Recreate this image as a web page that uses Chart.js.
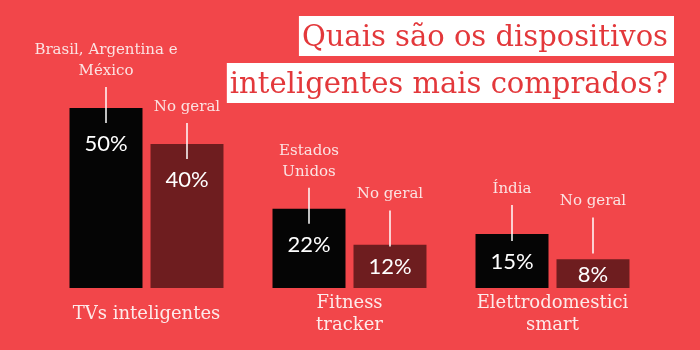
<!DOCTYPE html>
<html lang="pt">
<head>
<meta charset="utf-8">
<title>Quais são os dispositivos inteligentes mais comprados?</title>
<script src="https://cdn.jsdelivr.net/npm/chart.js@4"></script>
<style>
  html, body { margin: 0; padding: 0; background: #f2464a; }
  #chart { display: block; }
</style>
</head>
<body>
<canvas id="chart" width="700" height="350"></canvas>
<script>
// dados
const categories = [['TVs inteligentes'], ['Fitness', 'tracker'], ['Elettrodomestici', 'smart']];
const regionValues = [50, 22, 15];
const overallValues = [40, 12, 8];
const regionNotes = [['Brasil, Argentina e', 'México'], ['Estados', 'Unidos'], ['Índia']];
const overallNotes = [['No geral'], ['No geral'], ['No geral']];
const titleLines = ['Quais são os dispositivos', 'inteligentes mais comprados?'];

const BG = '#f2464a';
const SERIF = '"DejaVu Serif", "Liberation Serif", serif';
const SANS = 'Lato, "Open Sans", sans-serif';

const background = {
    id: 'background',
    beforeDraw(chart) {
        const ctx = chart.ctx;
        ctx.save();
        ctx.fillStyle = BG;
        ctx.fillRect(0, 0, chart.width, chart.height);
        ctx.restore();
    }
};

const annotations = {
    id: 'annotations',
    afterDatasetsDraw(chart) {
        const ctx = chart.ctx;
        const notes = [regionNotes, overallNotes];
        ctx.save();
        ctx.textAlign = 'center';
        ctx.textBaseline = 'middle';
        chart.data.datasets.forEach((ds, di) => {
            const meta = chart.getDatasetMeta(di);
            meta.data.forEach((bar, i) => {
                const labelY = Math.min(bar.y + 35, (bar.y + bar.base) / 2);
                const lineEnd = labelY - 20;
                const lineStart = lineEnd - 36;

                ctx.fillStyle = '#ffffff';
                ctx.font = '400 22px ' + SANS;
                ctx.fillText(ds.data[i] + '%', bar.x, labelY + 1);

                ctx.strokeStyle = '#ffffff';
                ctx.lineWidth = 1.5;
                ctx.beginPath();
                ctx.moveTo(bar.x, lineStart);
                ctx.lineTo(bar.x, lineEnd);
                ctx.stroke();

                const lines = notes[di][i];
                ctx.fillStyle = '#fbe3e3';
                ctx.font = '400 15px ' + SERIF;
                lines.forEach((t, k) => {
                    const y = lineStart - 16 - (lines.length - 1 - k) * 21;
                    ctx.fillText(t, bar.x, y);
                });
            });
        });

        // rótulos das categorias
        const xScale = chart.scales.x;
        ctx.fillStyle = '#fdeaea';
        ctx.font = '400 18px ' + SERIF;
        categories.forEach((lines, i) => {
            const cx = xScale.getPixelForValue(i);
            lines.forEach((t, k) => {
                const y = 314 + (k - (lines.length - 1) / 2) * 22;
                ctx.fillText(t, cx, y);
            });
        });
        ctx.restore();
    }
};

const titleBox = {
    id: 'titleBox',
    afterDraw(chart) {
        const ctx = chart.ctx;
        ctx.save();
        ctx.font = '400 29px ' + SERIF;
        ctx.textAlign = 'right';
        ctx.textBaseline = 'alphabetic';
        const right = 668;
        titleLines.forEach((t, k) => {
            const top = 16 + k * 47;
            const w = ctx.measureText(t).width;
            ctx.fillStyle = '#ffffff';
            ctx.fillRect(right - w - 3, top, w + 9, 40);
            ctx.fillStyle = '#e3383b';
            ctx.fillText(t, right, top + 30);
        });
        ctx.restore();
    }
};

new Chart(document.getElementById('chart'), {
    type: 'bar',
    data: {
        labels: categories,
        datasets: [
            {
                label: 'Região',
                data: regionValues,
                backgroundColor: '#050505',
                categoryPercentage: 0.798,
                barPercentage: 0.901
            },
            {
                label: 'No geral',
                data: overallValues,
                backgroundColor: '#6e1d1f',
                categoryPercentage: 0.798,
                barPercentage: 0.901
            }
        ]
    },
    options: {
        responsive: false,
        animation: false,
        events: [],
        layout: {
            padding: { left: 45, right: 46, top: 72, bottom: 62 }
        },
        plugins: {
            legend: { display: false },
            tooltip: { enabled: false }
        },
        scales: {
            x: { display: false },
            y: { display: false, min: 0, max: 60 }
        }
    },
    plugins: [background, annotations, titleBox]
});
</script>
</body>
</html>
